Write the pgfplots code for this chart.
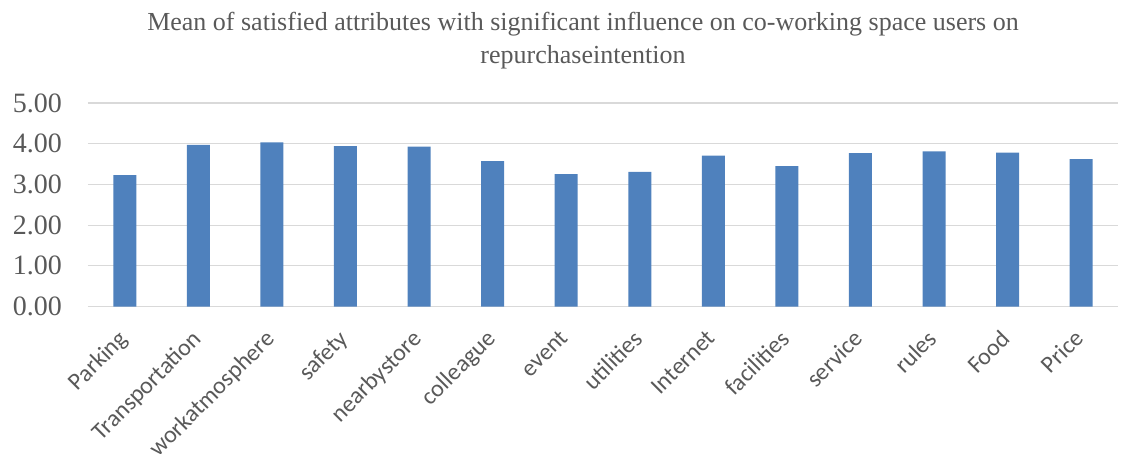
\documentclass[border=0pt]{standalone}
\usepackage{fontspec}
\setmainfont{Liberation Serif}
\newfontfamily\calibri{Carlito}
\usepackage{pgfplots}
\pgfplotsset{compat=1.18}
\definecolor{barblue}{HTML}{4F81BD}
\definecolor{txtgray}{HTML}{595959}
\definecolor{gridgray}{HTML}{D9D9D9}
\begin{document}
\begin{tikzpicture}[x=1pt,y=1pt]
\useasboundingbox (0,0) rectangle (1121,453);
\node[text=txtgray, font=\fontsize{26}{33}\selectfont, align=center] at (583,412.5)
  {Mean of satisfied attributes with significant influence on co-working space users on\\repurchaseintention};
\begin{axis}[
  at={(88pt,146.5pt)}, anchor=south west,
  scale only axis, width=1030pt, height=203.5pt,
  xmin=-0.5, xmax=13.5, ymin=0, ymax=5,
  ytick={0,1,2,3,4,5},
  xtick={0,...,13},
  xticklabels={Parking,Transportation,workatmosphere,safety,nearbystore,colleague,event,utilities,Internet,facilities,service,rules,Food,Price},
  axis line style={draw=none},
  major tick length=0pt,
  ymajorgrids, major grid style={draw=gridgray, line width=1.2pt},
  yticklabel style={text=txtgray, font=\fontsize{28}{30}\selectfont, inner sep=0pt, xshift=-26pt},
  /pgf/number format/assume math mode=true,
  /pgf/number format/.cd, fixed, fixed zerofill, precision=2, /pgfplots/.cd,
  xticklabel style={text=txtgray, font=\calibri\fontsize{24}{26}\selectfont, rotate=45, anchor=north east, inner sep=2pt, xshift=-19pt, yshift=-8pt},
  clip=false,
]
\addplot[ybar, bar width=23pt, fill=barblue, draw=none] coordinates {
(0,3.23) (1,3.97) (2,4.03) (3,3.94) (4,3.93) (5,3.57) (6,3.25) (7,3.31) (8,3.71) (9,3.45) (10,3.77) (11,3.81) (12,3.78) (13,3.62)
};
\end{axis}
\end{tikzpicture}
\end{document}
